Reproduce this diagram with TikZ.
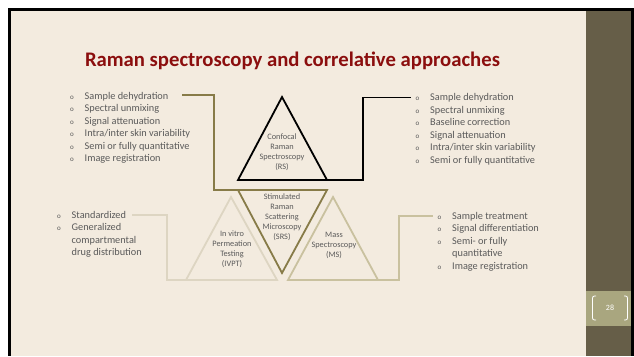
\documentclass[tikz,border=0pt]{standalone}
\usepackage{fontspec}
\setmainfont{Carlito}
\usetikzlibrary{calc}

\definecolor{slidebg}{HTML}{F3EBDF}
\definecolor{band}{HTML}{665E48}
\definecolor{pagebox}{HTML}{A9A67F}
\definecolor{titlered}{HTML}{8B0E0E}
\definecolor{txtgray}{HTML}{5A5A5A}
\definecolor{srsline}{HTML}{877B48}
\definecolor{msline}{HTML}{C9C19F}
\definecolor{ivptline}{HTML}{DDD5C2}

\newcommand{\itm}[1]{{\fontsize{7}{7}\selectfont o} & #1 \\}
\newcommand{\cnt}[1]{ & #1 \\}

\begin{document}
\begin{tikzpicture}[x=1pt, y=-1pt,
  list/.style={anchor=base west, inner sep=0pt, text=txtgray,
    font=\fontsize{10.3}{12.5}\selectfont},
  tri/.style={line width=1.8pt, line join=miter},
  link/.style={line width=1.8pt},
  trilabel/.style={align=center, text=txtgray, inner sep=0pt,
    font=\fontsize{8.3}{10}\selectfont}]

\useasboundingbox (0,0) rectangle (634,356);
\fill[white] (0,0) rectangle (634,356);
\fill[black] (8,8) rectangle (633.5,356);
\fill[slidebg] (11,11) rectangle (631,356);
\fill[band] (586,11) rectangle (631,356);
\fill[pagebox] (586,291) rectangle (631,326);
\draw[white, line width=0.8pt, rounded corners=2pt] (596,296) -- (592.5,296) -- (592.5,320) -- (596,320);
\draw[white, line width=0.8pt, rounded corners=2pt] (624,296) -- (627.5,296) -- (627.5,320) -- (624,320);
\node[text=white, font=\fontsize{8}{8}\selectfont] (pagenum) at (610,308) {28};

\node[text=titlered, font=\fontsize{20.7}{22}\selectfont\bfseries] (title) at (292.5,61) {Raman spectroscopy and correlative approaches};

% triangle corners
\coordinate (rs-t) at (282,97);
\coordinate (rs-l) at (238,180);
\coordinate (rs-r) at (327,180);
\coordinate (srs-l) at (238,190);
\coordinate (srs-r) at (327,190);
\coordinate (srs-b) at (282,273);
\coordinate (ivpt-t) at (231,197);
\coordinate (ivpt-l) at (186,280);
\coordinate (ivpt-r) at (277,280);
\coordinate (ms-t) at (333,197);
\coordinate (ms-l) at (288,280);
\coordinate (ms-r) at (378,280);

\draw[tri, ivptline] (ivpt-t) -- (ivpt-l) -- (ivpt-r) -- cycle;
\draw[tri, msline] (ms-t) -- (ms-l) -- (ms-r) -- cycle;
\draw[tri, srsline] (srs-l) -- (srs-r) -- (srs-b) -- cycle;
\draw[tri, black] (rs-t) -- (rs-l) -- (rs-r) -- cycle;

\node[trilabel] (rs) at (282,152) {Confocal\\Raman\\Spectroscopy\\(RS)};
\node[trilabel] (srs) at (282,217) {Stimulated\\Raman\\Scattering\\Microscopy\\(SRS)};
\node[trilabel] (ivpt) at (232,249.5) {In vitro\\Permeation\\Testing\\(IVPT)};
\node[trilabel] (ms) at (334,245) {Mass\\Spectroscopy\\(MS)};

% lists
\node[list] (rs-cons) at (70,99) {\begin{tabular}[t]{@{}p{14.5pt}@{}l@{}}
\itm{Sample dehydration}
\itm{Spectral unmixing}
\itm{Signal attenuation}
\itm{Intra/inter skin variability}
\itm{Semi or fully quantitative}
\itm{Image registration}
\end{tabular}};
\node[list] (srs-cons) at (415.5,100.5) {\begin{tabular}[t]{@{}p{14.5pt}@{}l@{}}
\itm{Sample dehydration}
\itm{Spectral unmixing}
\itm{Baseline correction}
\itm{Signal attenuation}
\itm{Intra/inter skin variability}
\itm{Semi or fully quantitative}
\end{tabular}};
\node[list] (ivpt-pros) at (57,218) {\begin{tabular}[t]{@{}p{14.5pt}@{}l@{}}
\itm{Standardized}
\itm{Generalized}
\cnt{compartmental}
\cnt{drug distribution}
\end{tabular}};
\node[list] (ms-cons) at (437.5,219) {\begin{tabular}[t]{@{}p{14.5pt}@{}l@{}}
\itm{Sample treatment}
\itm{Signal differentiation}
\itm{Semi- or fully}
\cnt{quantitative}
\itm{Image registration}
\end{tabular}};

% connectors
\coordinate (lt-end) at (182,95);
\coordinate (lt-bend) at (214,190);
\coordinate (rt-end) at (411,97.5);
\coordinate (rt-bend) at (363,180);
\coordinate (lb-end) at (132,215);
\coordinate (lb-bend) at (167,280);
\coordinate (rb-end) at (433,216);
\coordinate (rb-bend) at (399,280);

\draw[link, srsline] (lt-end) -| (lt-bend) -- (srs-l);
\draw[link, black] (rs-r) -- (rt-bend) |- (rt-end);
\draw[link, ivptline] (lb-end) -| (lb-bend) -- (ivpt-l);
\draw[link, msline] (ms-r) -- (rb-bend) |- (rb-end);

\end{tikzpicture}
\end{document}
